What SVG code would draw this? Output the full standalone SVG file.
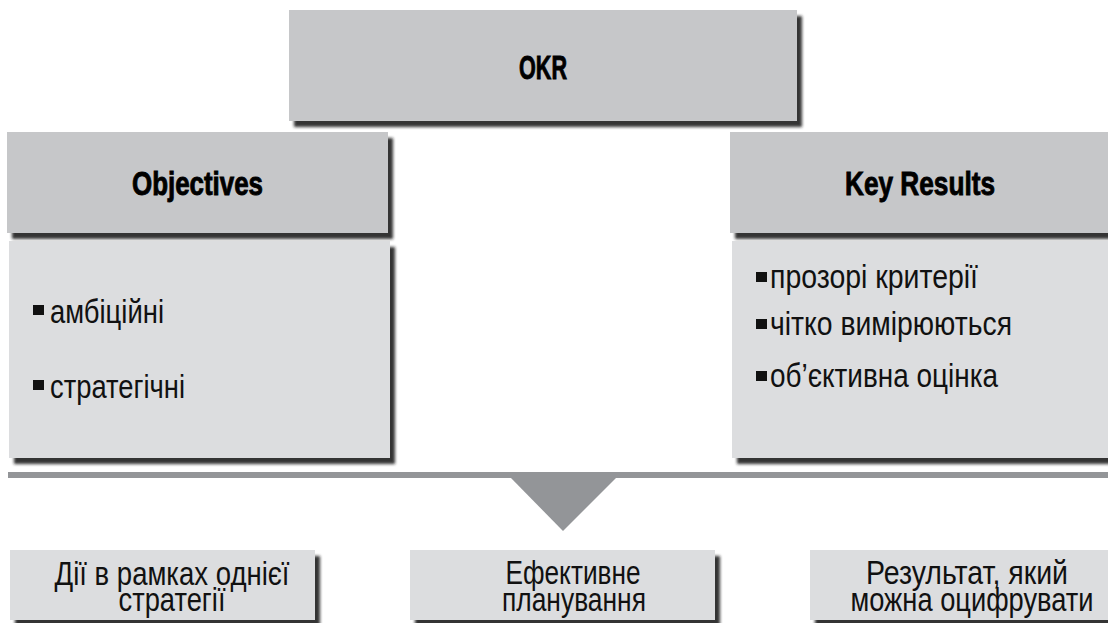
<svg xmlns="http://www.w3.org/2000/svg" width="1108" height="623" viewBox="0 0 1108 623">
<defs>
<filter id="sh" x="-5%" y="-10%" width="115%" height="130%">
<feDropShadow dx="5" dy="6" stdDeviation="1.8" flood-color="#1e1e1e" flood-opacity="0.9"/>
</filter>
<style>
.hdr{fill:#c6c7c9;filter:url(#sh)}
.body{fill:#dcdddf;filter:url(#sh)}
.bot{fill:#dcdddf;filter:url(#sh)}
.ht{font-family:"Liberation Sans Narrow","Liberation Sans",Arial,sans-serif;font-weight:bold;font-size:33px;fill:#000;stroke:#000;stroke-width:0.9px;text-anchor:middle}
.bt{font-family:"Liberation Sans Narrow","Liberation Sans",Arial,sans-serif;font-size:34px;fill:#111}
.ct{font-family:"Liberation Sans Narrow","Liberation Sans",Arial,sans-serif;font-size:34px;fill:#111;text-anchor:middle}
.bul{fill:#111}
.conn{fill:#939598}
</style>
</defs>
<rect width="1108" height="623" fill="#fff"/>

<g id="okr">
<rect class="hdr" x="289" y="10" width="508" height="111"/>
<text class="ht" x="543" y="79" textLength="48" lengthAdjust="spacingAndGlyphs">OKR</text>
</g>

<g id="objectives">
<rect class="hdr" x="7" y="132" width="381" height="101"/>
<text class="ht" x="197.5" y="195" textLength="131" lengthAdjust="spacingAndGlyphs">Objectives</text>
</g>

<g id="objectives-list">
<rect class="body" x="9" y="241" width="381" height="217"/>
<rect class="bul" x="33" y="305" width="11" height="10"/>
<text class="bt" x="50" y="323" textLength="114" lengthAdjust="spacingAndGlyphs">амбіційні</text>
<rect class="bul" x="33" y="380" width="11" height="10"/>
<text class="bt" x="50" y="398" textLength="135" lengthAdjust="spacingAndGlyphs">стратегічні</text>
</g>

<g id="key-results">
<rect class="hdr" x="730" y="132" width="390" height="101"/>
<text class="ht" x="920" y="195" textLength="150" lengthAdjust="spacingAndGlyphs">Key Results</text>
</g>

<g id="key-results-list">
<rect class="body" x="732" y="241" width="390" height="217"/>
<rect class="bul" x="756" y="272" width="11" height="10"/>
<text class="bt" x="770" y="288" textLength="208" lengthAdjust="spacingAndGlyphs">прозорі критерії</text>
<rect class="bul" x="756" y="319" width="11" height="10"/>
<text class="bt" x="770" y="335" textLength="242" lengthAdjust="spacingAndGlyphs">чітко вимірюються</text>
<rect class="bul" x="756" y="371" width="11" height="10"/>
<text class="bt" x="770" y="387" textLength="228" lengthAdjust="spacingAndGlyphs">об’єктивна оцінка</text>
</g>

<g id="connectors">
<rect class="conn" x="8" y="472" width="1100" height="6"/>
<polygon class="conn" points="510,477 617,477 563,531"/>
</g>

<g id="actions">
<rect class="bot" x="10" y="550" width="305" height="70"/>
<text class="ct" x="172" y="585" textLength="235" lengthAdjust="spacingAndGlyphs">Дії в рамках однієї</text>
<text class="ct" x="172" y="611" textLength="107" lengthAdjust="spacingAndGlyphs">стратегії</text>
</g>

<g id="planning">
<rect class="bot" x="410" y="550" width="305" height="70"/>
<text class="ct" x="573" y="584" textLength="135" lengthAdjust="spacingAndGlyphs">Ефективне</text>
<text class="ct" x="574" y="611" textLength="144" lengthAdjust="spacingAndGlyphs">планування</text>
</g>

<g id="result">
<rect class="bot" x="810" y="550" width="310" height="70"/>
<text class="ct" x="967" y="584" textLength="202" lengthAdjust="spacingAndGlyphs">Результат, який</text>
<text class="ct" x="972" y="611" textLength="243" lengthAdjust="spacingAndGlyphs">можна оцифрувати</text>
</g>
</svg>
